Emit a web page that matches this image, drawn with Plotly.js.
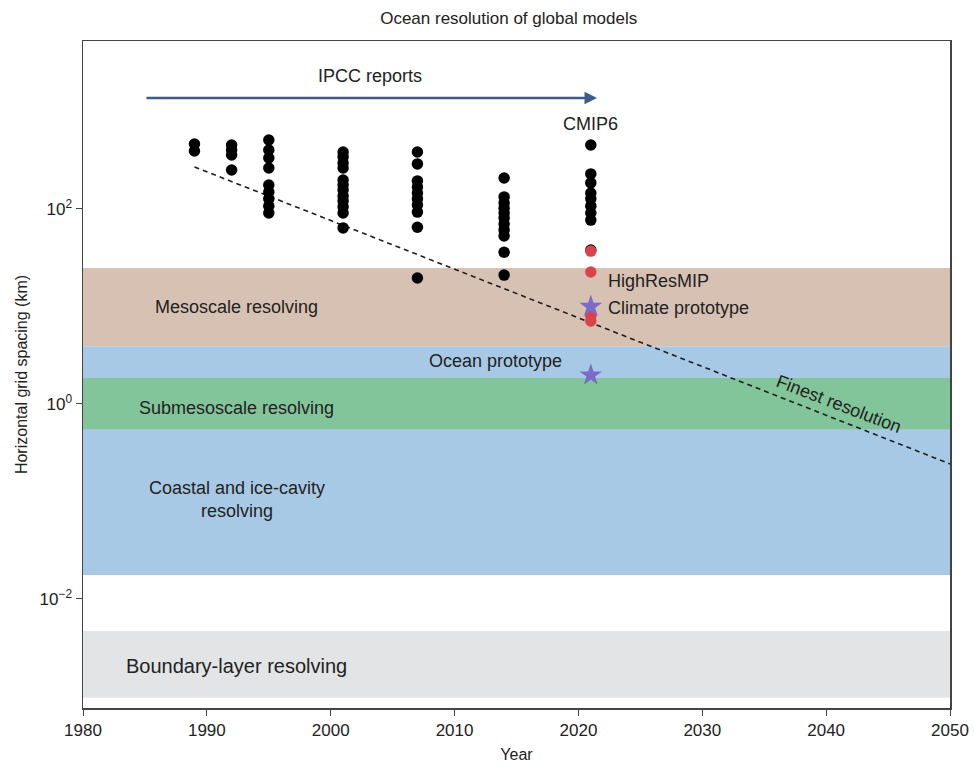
<!DOCTYPE html>
<html>
<head>
<meta charset="utf-8">
<script src="https://cdn.plot.ly/plotly-3.0.1.min.js"></script>
<style>html,body{margin:0;padding:0;background:#fff;}#chart{width:974px;height:769px;}</style>
</head>
<body>
<div id="chart"></div>
<script>
// CMIP model ocean resolutions (km) by year
const dotYears = [
  1989,1989,
  1992,1992,1992,1992,
  1995,1995,1995,1995,1995,1995,1995,1995,1995,
  2001,2001,2001,2001,2001,2001,2001,2001,2001,2001,2001,2001,
  2007,2007,2007,2007,2007,2007,2007,2007,2007,2007,
  2014,2014,2014,2014,2014,2014,2014,2014,2014,2014,2014,
  2021,2021,2021,2021,2021,2021,2021,2021,2021
];
const dotKm = [
  464,393,
  453,403,358,251,
  510,403,333,263,176,149,127,107,91,
  384,342,296,263,198,176,157,136,121,105,91,64,
  384,290,194,168,146,127,110,93,65,19.6,
  208,133,115,102,91,81,70,61,53,36,21,
  453,229,185,146,127,107,91,77,38
];
// HighResMIP (red)
const hrYears = [2021,2021,2021,2021];
const hrKm = [37,22.6,8.0,7.1];
// Prototypes (stars)
const protoYears = [2021,2021];
const protoKm = [10,1.98];
// Finest-resolution trend line
const trendYears = [1989,2050];
const trendKm = [270,0.243];
// Resolution regimes: [bottom km, top km]
const bandNames = ['Coastal and ice-cavity','Submesoscale','Mesoscale','Boundary-layer'];
const bandLow  = [0.0176, 0.55, 3.9, 0.00097];
const bandHigh = [3.9, 1.85, 24.8, 0.0047];
const bandColors = ['#a8c9e5','#82c59a','#d7c1b2','#e3e4e6'];
const xStart = 1980, xEnd = 2050;

const traces = [];
for (let i = 0; i < bandNames.length; i++) {
  traces.push({
    x: [xStart, xEnd, xEnd, xStart, xStart],
    y: [bandLow[i], bandLow[i], bandHigh[i], bandHigh[i], bandLow[i]],
    mode: 'lines', fill: 'toself', fillcolor: bandColors[i],
    line: {width: 0}, hoverinfo: 'skip', showlegend: false, name: bandNames[i]
  });
}
traces.push({
  x: trendYears, y: trendKm, mode: 'lines',
  line: {color: '#1e1e1e', width: 1.6, dash: '5px,4px'}, showlegend: false
});
traces.push({
  x: dotYears, y: dotKm, mode: 'markers',
  marker: {color: '#000', size: 11.5}, showlegend: false
});
traces.push({
  x: hrYears, y: hrKm, mode: 'markers',
  marker: {color: '#d8434c', size: 11.5}, showlegend: false
});
traces.push({
  x: protoYears, y: protoKm, mode: 'markers',
  marker: {color: '#7a6ac9', size: 17, symbol: 'star'}, showlegend: false
});

const FAM = 'Liberation Sans, Arial, sans-serif';
const txt = {family: FAM, size: 18, color: '#222'};
const L = Math.log10;
const annotations = [
  {x: 2021.5, y: 3.138, ax: 1984.8, ay: 3.138, axref: 'x', ayref: 'y', xref: 'x', yref: 'y',
   showarrow: true, arrowhead: 2, arrowsize: 1, arrowwidth: 2.5, arrowcolor: '#3e5b8b', text: ' '},
  {x: 2003.2, y: L(1375)+0.23, xref: 'x', yref: 'y', text: 'IPCC reports', showarrow: false, font: txt},
  {x: 2021, y: L(453)+0.22, xref: 'x', yref: 'y', text: 'CMIP6', showarrow: false, font: txt},
  {x: 2022.2, y: L(22.6)-0.09, xref: 'x', yref: 'y', text: 'HighResMIP', showarrow: false, font: txt, xanchor: 'left'},
  {x: 2022.2, y: L(10)-0.02, xref: 'x', yref: 'y', text: 'Climate prototype', showarrow: false, font: txt, xanchor: 'left'},
  {x: 2013.3, y: L(1.98)+0.14, xref: 'x', yref: 'y', text: 'Ocean prototype', showarrow: false, font: txt},
  {x: 1992.4, y: (L(3.9)+L(24.8))/2, xref: 'x', yref: 'y', text: 'Mesoscale resolving', showarrow: false, font: txt},
  {x: 1992.4, y: (L(0.55)+L(1.85))/2 - 0.04, xref: 'x', yref: 'y', text: 'Submesoscale resolving', showarrow: false, font: txt},
  {x: 1992.4, y: -0.98, xref: 'x', yref: 'y', text: 'Coastal and ice-cavity<br>resolving', showarrow: false, font: txt},
  {x: 1992.4, y: (L(0.00097)+L(0.0047))/2 - 0.02, xref: 'x', yref: 'y', text: 'Boundary-layer resolving', showarrow: false, font: {family: FAM, size: 20, color: '#222'}},
  {x: 2041.0, y: L(0.8)+0.1, xref: 'x', yref: 'y', text: 'Finest resolution', showarrow: false, textangle: 21, font: txt}
];

const layout = {
  width: 974, height: 769,
  margin: {l: 83, r: 24, t: 41, b: 61},
  paper_bgcolor: '#fff', plot_bgcolor: '#fff',
  title: {text: 'Ocean resolution of global models', xref: 'paper', x: 0.491, xanchor: 'center', y: 0.977, yanchor: 'middle',
          font: {family: FAM, size: 17, color: '#222'}},
  font: {family: FAM, size: 17, color: '#222'},
  xaxis: {
    range: [1980, 2050], tickvals: [1980,1990,2000,2010,2020,2030,2040,2050],
    showgrid: false, zeroline: false, showline: true, linecolor: '#444', linewidth: 1.5, mirror: true,
    ticks: 'outside', ticklen: 6, tickcolor: '#444', tickfont: {size: 17},
    title: {text: 'Year', font: {size: 16}, standoff: 10}
  },
  yaxis: {
    type: 'log', range: [-3.118, 3.723],
    tickvals: [0.01, 1, 100], ticktext: ['10<sup>−2</sup>', '10<sup>0</sup>', '10<sup>2</sup>'],
    showgrid: false, zeroline: false, showline: true, linecolor: '#444', linewidth: 1.5, mirror: true,
    ticks: 'outside', ticklen: 6, tickcolor: '#444', tickfont: {size: 17},
    title: {text: 'Horizontal grid spacing (km)', font: {size: 16}, standoff: 8}
  },
  annotations: annotations,
  showlegend: false
};
Plotly.newPlot('chart', traces, layout, {staticPlot: true, displayModeBar: false});
</script>
</body>
</html>
